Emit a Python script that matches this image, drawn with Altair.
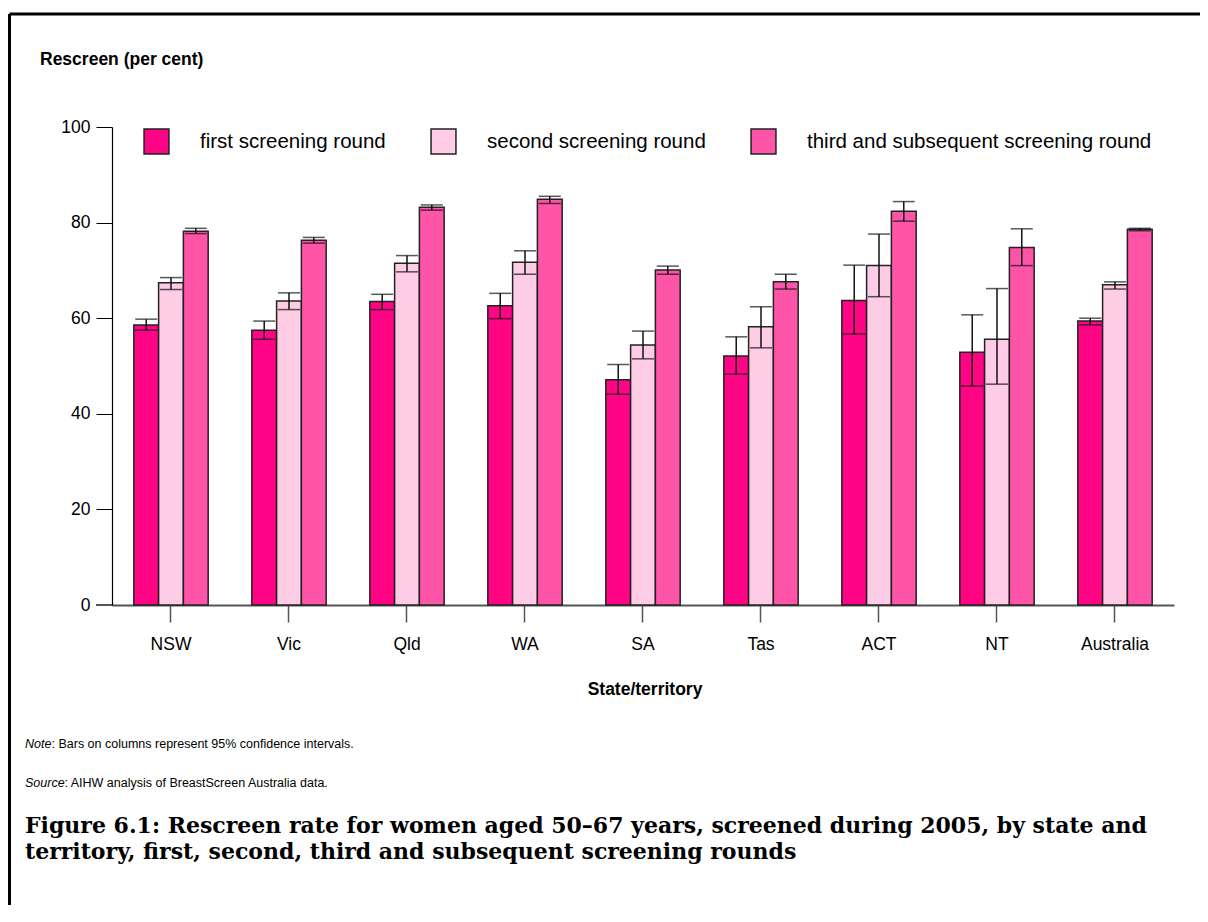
import altair as alt
import pandas as pd

states = ["NSW", "Vic", "Qld", "WA", "SA", "Tas", "ACT", "NT", "Australia"]
rounds = ["first screening round", "second screening round",
          "third and subsequent screening round"]

first = [58.6, 57.5, 63.5, 62.6, 47.1, 52.1, 63.7, 52.9, 59.4]
first_lo = [57.5, 55.6, 61.8, 59.9, 44.1, 48.3, 56.7, 45.8, 58.6]
first_hi = [59.8, 59.4, 65.0, 65.2, 50.3, 56.1, 71.1, 60.7, 60.0]

second = [67.4, 63.6, 71.5, 71.7, 54.4, 58.2, 71.0, 55.6, 67.0]
second_lo = [66.0, 61.8, 69.7, 69.2, 51.5, 53.8, 64.5, 46.2, 66.1]
second_hi = [68.5, 65.3, 73.1, 74.1, 57.3, 62.4, 77.6, 66.2, 67.6]

third = [78.2, 76.3, 83.2, 84.9, 70.1, 67.6, 82.4, 74.8, 78.6]
third_lo = [77.7, 75.7, 82.6, 84.0, 69.2, 66.1, 80.3, 71.0, 78.3]
third_hi = [78.8, 76.9, 83.7, 85.5, 70.9, 69.2, 84.4, 78.7, 78.8]

colors = ["#FF0585", "#FFCCE6", "#FF55A8"]

rows = []
for r, (v, lo, hi) in zip(rounds, [(first, first_lo, first_hi),
                                   (second, second_lo, second_hi),
                                   (third, third_lo, third_hi)]):
    for s, a, b, c in zip(states, v, lo, hi):
        rows.append({"state": s, "round": r, "value": a, "lo": b, "hi": c})
df = pd.DataFrame(rows)

W, H = 1062, 478
SANS = "Liberation Sans"

x_enc = alt.X("state:N", sort=states,
              scale=alt.Scale(paddingInner=0.37, paddingOuter=0.185),
              axis=alt.Axis(title=None, labelAngle=0, labelFontSize=17.5,
                            labelFont=SANS, labelColor="#000",
                            labelPadding=13, tickSize=17, tickColor="#555",
                            tickWidth=1.5, domainColor="#555", domainWidth=2))
xo_enc = alt.XOffset("round:N", sort=rounds, scale=alt.Scale(paddingInner=0))
y_scale = alt.Scale(domain=[0, 100], nice=False)

base = alt.Chart(df)

bars = base.mark_bar(stroke="#222", strokeWidth=1.5).encode(
    x=x_enc,
    xOffset=xo_enc,
    y=alt.Y("value:Q", scale=y_scale,
            axis=alt.Axis(title=None, values=[0, 20, 40, 60, 80, 100],
                          grid=False, labelFontSize=17.5, labelFont=SANS,
                          labelColor="#000", tickSize=16, tickColor="#000",
                          domainColor="#000", domainWidth=1.2,
                          labelPadding=6)),
    color=alt.Color("round:N", sort=rounds,
                    scale=alt.Scale(domain=rounds, range=colors),
                    legend=alt.Legend(
                        title=None, orient="none", legendX=31, legendY=1,
                        direction="horizontal", symbolType="square",
                        symbolSize=620, symbolStrokeColor="#222",
                        symbolStrokeWidth=1.5, symbolOpacity=1,
                        labelFontSize=20.5, labelFont=SANS, labelColor="#000",
                        labelOffset=30, columnPadding=42, labelLimit=0)),
)

err = base.mark_rule(color="#111", strokeWidth=1.5).encode(
    x=alt.X("state:N", sort=states), xOffset=alt.XOffset("round:N", sort=rounds),
    y="lo:Q", y2="hi:Q")
cap_lo = base.mark_tick(color="#111", thickness=1.5, size=22).encode(
    x=alt.X("state:N", sort=states), xOffset=alt.XOffset("round:N", sort=rounds),
    y="lo:Q")
cap_hi = base.mark_tick(color="#111", thickness=1.5, size=22).encode(
    x=alt.X("state:N", sort=states), xOffset=alt.XOffset("round:N", sort=rounds),
    y="hi:Q")

one = alt.Data(values=[{}])

def txt(t, px, py, size, weight="normal", style="normal", font=SANS,
        align="left"):
    return alt.Chart(one).mark_text(
        text=t, fontSize=size, fontWeight=weight, fontStyle=style, font=font,
        align=align, baseline="middle", color="#000"
    ).encode(x=alt.value(px - 112), y=alt.value(py - 127))

texts = [
    txt("Rescreen (per cent)", 40, 60, 17.5, weight="bold"),
    txt("State/territory", 645, 690, 17.5, weight="bold", align="center"),
    txt("Note", 25, 744, 12.5, style="italic"),
    txt(": Bars on columns represent 95% confidence intervals.", 51.5, 744, 12.5),
    txt("Source", 25, 783, 12.5, style="italic"),
    txt(": AIHW analysis of BreastScreen Australia data.", 64.5, 783, 12.5),
    txt("Figure 6.1: Rescreen rate for women aged 50\u201367 years, screened during 2005, by state and",
        25, 826, 22, weight="bold", font="DejaVu Serif"),
    txt("territory, first, second, third and subsequent screening rounds",
        25, 852, 22, weight="bold", font="DejaVu Serif"),
]

border_top = alt.Chart(one).mark_rule(color="#000", strokeWidth=3).encode(
    x=alt.value(9.5 - 112), x2=alt.value(1210 - 112),
    y=alt.value(14 - 127))
border_left = alt.Chart(one).mark_rule(color="#000", strokeWidth=3).encode(
    x=alt.value(9.5 - 112), y=alt.value(14 - 127), y2=alt.value(930 - 127))
x_ext = alt.Chart(one).mark_rule(color="#555", strokeWidth=2).encode(
    x=alt.value(96 - 112), x2=alt.value(0), y=alt.value(H))

chart = alt.layer(bars, err, cap_lo, cap_hi, border_top, border_left, x_ext,
                  *texts).properties(
    width=W, height=H,
    autosize=alt.AutoSizeParams(type="none"),
    padding={"left": 104, "top": 119, "right": 26, "bottom": 300},
    background="#ffffff",
).configure_view(stroke=None)

chart.save("out.html", embed_options={"renderer": "svg", "actions": False})
